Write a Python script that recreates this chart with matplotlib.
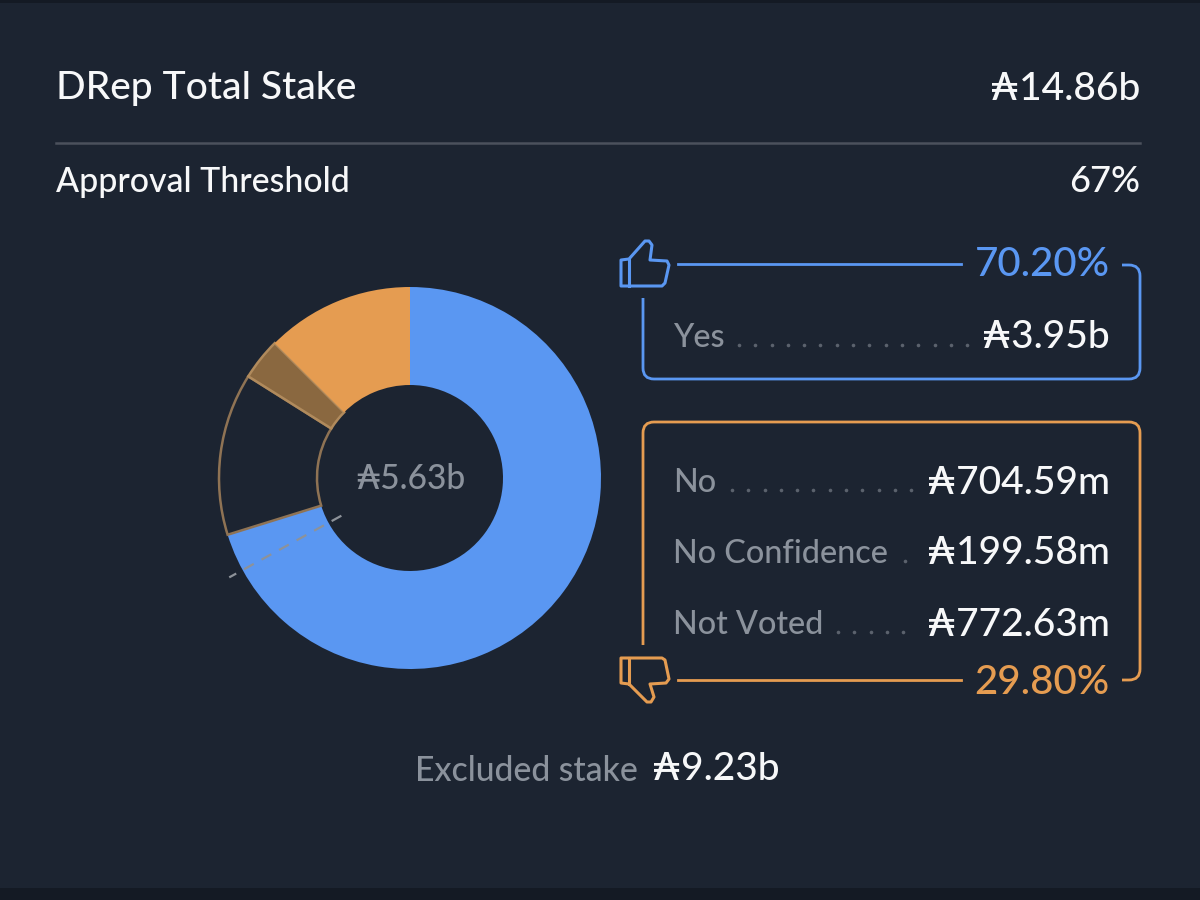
import matplotlib
matplotlib.use("Agg")
import matplotlib.pyplot as plt
import numpy as np
from matplotlib.patches import PathPatch, Polygon, Rectangle
from matplotlib.path import Path

plt.rcParams['font.family'] = ['Lato', 'DejaVu Sans']
plt.rcParams['font.weight'] = 500

# stake per vote, in billions, clockwise from the top of the ring
vote_names = ["Yes", "Not Voted", "No Confidence", "No"]
vote_stake = [3.95, 0.77263, 0.19958, 0.70459]
threshold = 0.67

title = "DRep Total Stake"
total_stake = "₳14.86b"
threshold_label = "Approval Threshold"
threshold_value = "67%"
ring_total = "₳5.63b"
yes_pct = "70.20%"
no_pct = "29.80%"
yes_rows = [("Yes", "₳3.95b")]
no_rows = [("No", "₳704.59m"), ("No Confidence", "₳199.58m"), ("Not Voted", "₳772.63m")]
excluded_label = "Excluded stake"
excluded_value = "₳9.23b"

BG = "#1c2431"
EDGE = "#141a24"
BLUE = "#5a97f2"
ORANGE = "#e59c51"
BROWN = "#8a6840"
RING_LINE = "#8f7354"
WHITE = "#f7f8f9"
GREY = "#8b929c"
DOTS = "#5b626d"

fig = plt.figure(figsize=(12, 9), dpi=100, facecolor=EDGE)
fig.add_artist(Rectangle((0, 12 / 900), 1, 885 / 900, transform=fig.transFigure, fc=BG, ec="none", zorder=-5))

# ring
cx, cy, r = 410, 478, 191
pad = 1.2
ax = fig.add_axes([(cx - r * pad) / 1200, 1 - (cy + r * pad) / 900, 2 * r * pad / 1200, 2 * r * pad / 900])
wedges, _ = ax.pie(vote_stake, startangle=90, counterclock=False, radius=1,
                   wedgeprops=dict(width=98 / r))
ax.set_xlim(-pad, pad)
ax.set_ylim(-pad, pad)
ax.axis("off")
ring_colors = [(BLUE, BLUE, 0), (BG, RING_LINE, 1.8), (BROWN, "#b08a5c", 1.8), (ORANGE, ORANGE, 0)]
for w, (fc, ec, lw) in zip(wedges, ring_colors):
    w.set(facecolor=fc, edgecolor=ec, linewidth=lw)

# threshold marker, radial at the threshold share of the ring
ang = np.deg2rad(90 - 360 * threshold)
ax.plot([0.41 * np.cos(ang), 1.08 * np.cos(ang)], [0.41 * np.sin(ang), 1.08 * np.sin(ang)],
        color="#8d9299", lw=1.6, ls=(0, (5, 4)), zorder=5)

# overlay in pixel coordinates for the card text and boxes
ui = fig.add_axes([0, 0, 1, 1])
ui.set_xlim(0, 1200)
ui.set_ylim(900, 0)
ui.axis("off")

ui.text(56, 89, title, color=WHITE, fontsize=28.1, va="center", ha="left")
ui.text(1140, 89, total_stake, color=WHITE, fontsize=28, va="center", ha="right")
ui.plot([56, 1140], [143, 143], color="#4b515c", lw=1.8)
ui.text(56, 182, threshold_label, color=WHITE, fontsize=24.4, va="center", ha="left")
ui.text(1140, 182, threshold_value, color=WHITE, fontsize=26, va="center", ha="right")
ui.text(cx, 479, ring_total, color=GREY, fontsize=24.2, ha="center", va="center")


def open_box(x0, y0, x1, y1, left_y, gap_x, gap_on_top, color):
    # rounded outline, open where the percent label and thumb icon sit
    rad = 11
    k = Path.LINETO
    q = Path.CURVE3
    if gap_on_top:
        verts = [(x0, left_y), (x0, y1 - rad), (x0, y1), (x0 + rad, y1), (x1 - rad, y1), (x1, y1), (x1, y1 - rad),
                 (x1, y0 + rad), (x1, y0), (x1 - rad, y0), (gap_x, y0)]
    else:
        verts = [(x0, left_y), (x0, y0 + rad), (x0, y0), (x0 + rad, y0), (x1 - rad, y0), (x1, y0), (x1, y0 + rad),
                 (x1, y1 - rad), (x1, y1), (x1 - rad, y1), (gap_x, y1)]
    codes = [Path.MOVETO, k, q, q, k, q, q, k, q, q, k]
    ui.add_patch(PathPatch(Path(verts, codes), fc="none", ec=color, lw=2))


def row(y, name, value, dots_from, dots_to):
    ui.text(673, y + 2, name, color=GREY, fontsize=23.3, va="center", ha="left")
    ui.text(1110, y + 2, value, color=WHITE, fontsize=28, va="center", ha="right")
    xs = np.arange(dots_from, dots_to, 16.3)
    ui.plot(xs, [y + 9] * len(xs), ls="none", marker="o", ms=2.6, mew=0, color=DOTS)


# yes box
open_box(643, 265, 1140, 379, 298, 1122, True, BLUE)
ui.plot([678, 961], [264, 264], color=BLUE, lw=2)
ui.text(1110, 265, yes_pct, color=BLUE, fontsize=29, va="center", ha="right")
row(336, yes_rows[0][0], yes_rows[0][1], 739, 968)

# no box
open_box(643, 422, 1140, 680, 645, 1122, False, ORANGE)
ui.plot([678, 961], [680, 680], color=ORANGE, lw=2)
ui.text(1110, 682, no_pct, color=ORANGE, fontsize=29, va="center", ha="right")
row(481, no_rows[0][0], no_rows[0][1], 732, 912)
row(552, no_rows[1][0], no_rows[1][1], 905, 912)
row(623, no_rows[2][0], no_rows[2][1], 838, 912)

# thumb icons traced as outlines
thumb = [(629, 286), (662, 286), (665, 283), (669, 265), (667, 261), (650, 260), (652, 245), (649, 241),
         (645, 241), (629, 259), (621, 260), (621, 286)]
ui.add_patch(Polygon(thumb, closed=True, fc="none", ec=BLUE, lw=2.2, joinstyle="round"))
ui.plot([629, 629], [260, 286], color=BLUE, lw=2.2)
down = [(621, 658), (662, 658), (665, 660), (669, 679), (666, 683), (650, 684), (654, 697), (651, 702),
        (647, 702), (629, 684), (621, 683)]
ui.add_patch(Polygon(down, closed=True, fc="none", ec=ORANGE, lw=2.2, joinstyle="round"))
ui.plot([629, 629], [658, 684], color=ORANGE, lw=2.2)

ui.text(638, 771, excluded_label, color=GREY, fontsize=24.3, va="center", ha="right")
ui.text(652, 770, excluded_value, color=WHITE, fontsize=28, va="center", ha="left")

fig.savefig("out.png", dpi=100, facecolor=EDGE)
